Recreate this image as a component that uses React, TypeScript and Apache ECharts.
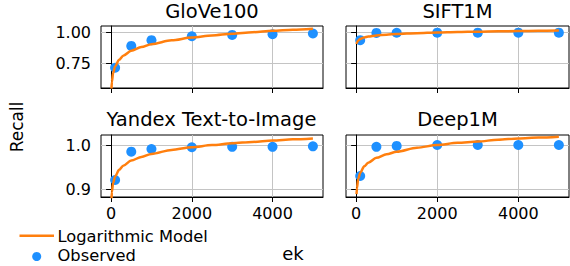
import React, { useEffect, useRef } from "react";
import * as echarts from "echarts";

const titles = ["GloVe100", "SIFT1M", "Yandex Text-to-Image", "Deep1M"];

const ekObserved = [100, 500, 1000, 2000, 3000, 4000, 5000];
const gloveObserved = [0.715, 0.892, 0.938, 0.97, 0.981, 0.986, 0.992];
const siftObserved = [0.938, 0.997, 0.998, 0.999, 0.999, 0.999, 0.999];
const yandexObserved = [0.921, 0.985, 0.991, 0.995, 0.996, 0.996, 0.997];
const deepObserved = [0.93, 0.996, 0.998, 1.0, 1.0, 1.0, 1.0];

const ekModel = [10, 20, 50, 100, 200, 300, 500, 750, 1000, 1500, 2000, 2500, 3000, 3500, 4000, 4500, 5000];
const gloveModel = [0.547, 0.601, 0.672, 0.726, 0.78, 0.812, 0.852, 0.883, 0.906, 0.937, 0.96, 0.977, 0.991, 1.003, 1.014, 1.023, 1.031];
const siftModel = [0.907, 0.919, 0.935, 0.948, 0.96, 0.967, 0.976, 0.983, 0.988, 0.995, 1.0, 1.004, 1.007, 1.01, 1.012, 1.014, 1.016];
const yandexModel = [0.878, 0.894, 0.914, 0.929, 0.944, 0.953, 0.965, 0.973, 0.98, 0.989, 0.995, 1.0, 1.004, 1.007, 1.01, 1.013, 1.015];
const deepModel = [0.889, 0.903, 0.923, 0.937, 0.952, 0.96, 0.971, 0.979, 0.985, 0.994, 1.0, 1.005, 1.008, 1.012, 1.015, 1.017, 1.019];

const xTicks = [0, 2000, 4000];
const topYTicks = [0.75, 1.0];
const bottomYTicks = [0.9, 1.0];

const FONT = "DejaVu Sans";

export default function App() {
  const ref = useRef<HTMLDivElement>(null);
  useEffect(() => {
    if (!ref.current) return;
    const chart = echarts.init(ref.current, undefined, { renderer: "svg" });
    const observed = [gloveObserved, siftObserved, yandexObserved, deepObserved];
    const model = [gloveModel, siftModel, yandexModel, deepModel];
    const grids = [
      { left: 101, top: 26, width: 222, height: 62 },
      { left: 346, top: 26, width: 223, height: 62 },
      { left: 101, top: 135, width: 222, height: 62 },
      { left: 346, top: 135, width: 223, height: 62 },
    ].map((g) => ({ ...g, show: true, borderColor: "#000", borderWidth: 1, backgroundColor: "transparent" }));

    const xAxis = grids.map((_, i) => ({
      type: "value",
      gridIndex: i,
      min: -250,
      max: 5250,
      axisLine: { show: true, lineStyle: { color: "#000", width: 1 } },
      axisTick: { show: true, customValues: xTicks, length: 5, lineStyle: { color: "#000", width: 1 } },
      axisLabel: {
        show: i >= 2,
        customValues: xTicks,
        fontSize: 16,
        color: "#000",
        fontFamily: FONT,
        margin: 8,
        formatter: (v: number) => String(Math.round(v)),
      },
      splitLine: { show: true, lineStyle: { color: "#c4c4c4", width: 1 } },
    }));

    const yAxis = grids.map((_, i) => {
      const top = i < 2;
      const ticks = top ? topYTicks : bottomYTicks;
      return {
        type: "value",
        gridIndex: i,
        min: top ? 0.551 : 0.8825,
        max: top ? 1.053 : 1.0227,
        axisLine: { show: true, lineStyle: { color: "#000", width: 1 } },
        axisTick: { show: true, customValues: ticks, length: 5, lineStyle: { color: "#000", width: 1 } },
        axisLabel: {
          show: i % 2 === 0,
          customValues: ticks,
          fontSize: 16,
          color: "#000",
          fontFamily: FONT,
          margin: 10,
          formatter: (v: number) => (top ? v.toFixed(2) : v.toFixed(1)),
        },
        splitLine: { show: true, lineStyle: { color: "#c4c4c4", width: 1 } },
      };
    });

    const series: any[] = [];
    for (let i = 0; i < 4; i++) {
      series.push({
        type: "scatter",
        name: "Observed",
        xAxisIndex: i,
        yAxisIndex: i,
        data: ekObserved.map((x, k) => [x, observed[i][k]]),
        symbolSize: 10,
        itemStyle: { color: "#1e90ff", opacity: 1 },
        z: 2,
      });
      series.push({
        type: "line",
        name: "Logarithmic Model",
        xAxisIndex: i,
        yAxisIndex: i,
        data: ekModel.map((x, k) => [x, model[i][k]]),
        showSymbol: false,
        smooth: 0.3,
        smoothMonotone: "x",
        clip: true,
        lineStyle: { color: "#ff7f0e", width: 2.5 },
        z: 3,
      });
    }

    const titlePos = [
      { x: 212, y: 11 },
      { x: 457.5, y: 11 },
      { x: 211.5, y: 119.5 },
      { x: 457.5, y: 119.5 },
    ];

    const graphic: any[] = titles.map((t, i) => ({
      type: "text",
      x: titlePos[i].x,
      y: titlePos[i].y,
      style: {
        text: t,
        fontSize: 19.5,
        fontFamily: FONT,
        fill: "#000",
        align: "center",
        verticalAlign: "middle",
      },
    }));
    graphic.push(
      {
        type: "text",
        x: 17,
        y: 127,
        rotation: Math.PI / 2,
        style: { text: "Recall", fontSize: 17, fontFamily: FONT, fill: "#000", align: "center", verticalAlign: "middle" },
      },
      {
        type: "text",
        x: 293,
        y: 253,
        style: { text: "ek", fontSize: 18, fontFamily: FONT, fill: "#000", align: "center", verticalAlign: "middle" },
      },
      {
        type: "line",
        shape: { x1: 19.5, y1: 235.7, x2: 54, y2: 235.7 },
        style: { stroke: "#ff7f0e", lineWidth: 2.5 },
      },
      {
        type: "text",
        x: 57.5,
        y: 236,
        style: { text: "Logarithmic Model", fontSize: 16.3, fontFamily: FONT, fill: "#000", align: "left", verticalAlign: "middle" },
      },
      {
        type: "circle",
        shape: { cx: 36.7, cy: 256.5, r: 4.5 },
        style: { fill: "#1e90ff" },
      },
      {
        type: "text",
        x: 57.5,
        y: 255.5,
        style: { text: "Observed", fontSize: 16.3, fontFamily: FONT, fill: "#000", align: "left", verticalAlign: "middle" },
      }
    );

    chart.setOption({
      animation: false,
      backgroundColor: "#fff",
      grid: grids,
      xAxis,
      yAxis,
      series,
      graphic,
    });
    return () => chart.dispose();
  }, []);
  return <div ref={ref} style={{ position: "fixed", left: 0, top: 0, width: 570, height: 266 }} />;
}
